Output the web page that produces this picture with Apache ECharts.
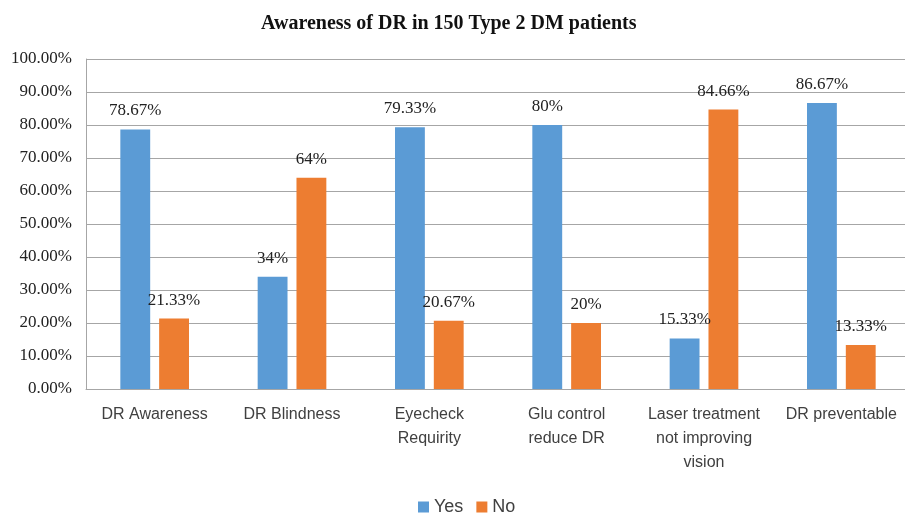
<!DOCTYPE html>
<html>
<head>
<meta charset="utf-8">
<script src="https://cdn.jsdelivr.net/npm/echarts@6/dist/echarts.min.js"></script>
<style>
  html, body { margin: 0; padding: 0; background: #fff; }
  #chart { width: 905px; height: 517px; }
</style>
</head>
<body>
<div id="chart"></div>
<script>
  // categories and values (percent)
  const categories = [
    'DR Awareness',
    'DR Blindness',
    'Eyecheck\nRequirity',
    'Glu control\nreduce DR',
    'Laser treatment\nnot improving\nvision',
    'DR preventable'
  ]
  const yesValues = [78.67, 34, 79.33, 80, 15.33, 86.67]
  const noValues = [21.33, 64, 20.67, 20, 84.66, 13.33]
  const seriesNames = ['Yes', 'No']

  const chart = echarts.init(document.getElementById('chart'))

  const labelStyle = {
    show: true,
    position: 'top',
    distance: 10,
    fontFamily: 'Liberation Serif',
    fontSize: 17,
    color: '#222',
    formatter: (p) => p.value + '%'
  }

  const option = {
    animation: false,
    color: ['#5B9BD5', '#ED7D31'],
    title: {
      text: 'Awareness of DR in 150 Type 2 DM patients',
      left: 256,
      top: 9,
      textStyle: {
        fontFamily: 'Liberation Serif',
        fontWeight: 'bold',
        fontSize: 20,
        color: '#111'
      }
    },
    legend: {
      data: seriesNames,
      top: 493,
      left: 413,
      itemWidth: 11,
      itemHeight: 11,
      itemGap: 13,
      icon: 'rect',
      textStyle: {
        fontFamily: 'Liberation Sans',
        fontSize: 18,
        color: '#404040'
      }
    },
    // plot area runs a little past the right edge, like the original
    grid: {
      left: 86,
      width: 824,
      top: 59,
      bottom: 128,
      containLabel: false,
      outerBoundsMode: 'none'
    },
    xAxis: {
      type: 'category',
      data: categories,
      axisLine: { lineStyle: { color: '#A6A6A6' } },
      axisTick: { show: false },
      axisLabel: {
        interval: 0,
        margin: 14,
        lineHeight: 24,
        fontFamily: 'Liberation Sans',
        fontSize: 16,
        color: '#404040'
      }
    },
    yAxis: {
      type: 'value',
      min: 0,
      max: 100,
      interval: 10,
      axisLine: { show: true, lineStyle: { color: '#A6A6A6' } },
      axisTick: { show: false },
      splitLine: { lineStyle: { color: '#A6A6A6' } },
      axisLabel: {
        margin: 14,
        fontFamily: 'Liberation Serif',
        fontSize: 17,
        color: '#222',
        formatter: (v) => v.toFixed(2) + '%'
      }
    },
    series: [
      {
        name: seriesNames[0],
        type: 'bar',
        data: yesValues,
        barGap: '30%',
        barCategoryGap: '50%',
        label: labelStyle
      },
      {
        name: seriesNames[1],
        type: 'bar',
        data: noValues,
        barGap: '30%',
        barCategoryGap: '50%',
        label: labelStyle
      }
    ]
  }

  chart.setOption(option)
</script>
</body>
</html>
